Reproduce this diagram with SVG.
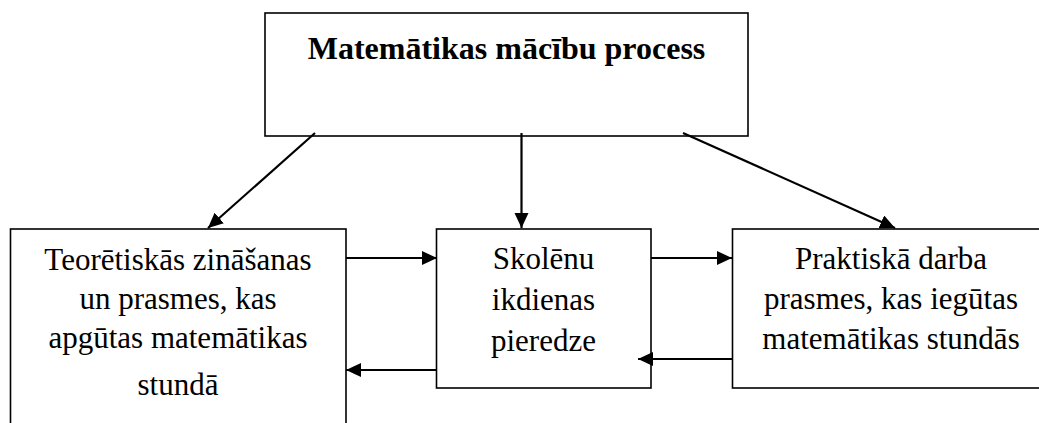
<svg xmlns="http://www.w3.org/2000/svg" width="1039" height="423" viewBox="0 0 1039 423">
  <style>
    .box { fill: #ffffff; stroke: #000000; stroke-width: 1.6; }
    .t { font-size: 31px; fill: #000000; text-anchor: middle; }
    .title { font-weight: bold; font-size: 32px; }
    .conn { stroke: #000000; stroke-width: 2.2; fill: none; marker-end: url(#ah); }
  </style>
  <defs>
    <marker id="ah" markerUnits="userSpaceOnUse" markerWidth="16" markerHeight="16" refX="15" refY="7" orient="auto">
      <path d="M0,0 L15,7 L0,14 Z" fill="#000000"/>
    </marker>
  </defs>
  <rect width="1039" height="423" fill="#ffffff"/>
  <g font-family="Liberation Serif, Times New Roman, serif">
    <g id="node-top">
      <rect class="box" x="265" y="13" width="483" height="123"/>
      <text class="t title" x="506.5" y="59">Matemātikas mācību process</text>
    </g>
    <g id="node-left">
      <rect class="box" x="10.5" y="229" width="335.5" height="210"/>
      <text class="t" x="178" y="270">Teorētiskās zināšanas</text>
      <text class="t" x="178" y="309">un prasmes, kas</text>
      <text class="t" x="178" y="348">apgūtas matemātikas</text>
      <text class="t" x="178" y="395">stundā</text>
    </g>
    <g id="node-middle">
      <rect class="box" x="436.5" y="229" width="214.5" height="159"/>
      <text class="t" x="543.5" y="269">Skolēnu</text>
      <text class="t" x="543.5" y="310">ikdienas</text>
      <text class="t" x="543.5" y="351">pieredze</text>
    </g>
    <g id="node-right">
      <rect class="box" x="732.5" y="229" width="320" height="159"/>
      <text class="t" x="891" y="269">Praktiskā darba</text>
      <text class="t" x="891" y="309">prasmes, kas iegūtas</text>
      <text class="t" x="891" y="349">matemātikas stundās</text>
    </g>
  </g>
  <g id="connectors">
    <line class="conn" x1="315" y1="133" x2="208" y2="228"/>
    <line class="conn" x1="521.5" y1="133" x2="521.5" y2="228"/>
    <line class="conn" x1="683" y1="133" x2="895" y2="228"/>
    <line class="conn" x1="346" y1="258" x2="437" y2="258"/>
    <line class="conn" x1="437" y1="370" x2="346" y2="370"/>
    <line class="conn" x1="651" y1="258" x2="732" y2="258"/>
    <line class="conn" x1="732" y1="359" x2="638" y2="359"/>
  </g>
</svg>
